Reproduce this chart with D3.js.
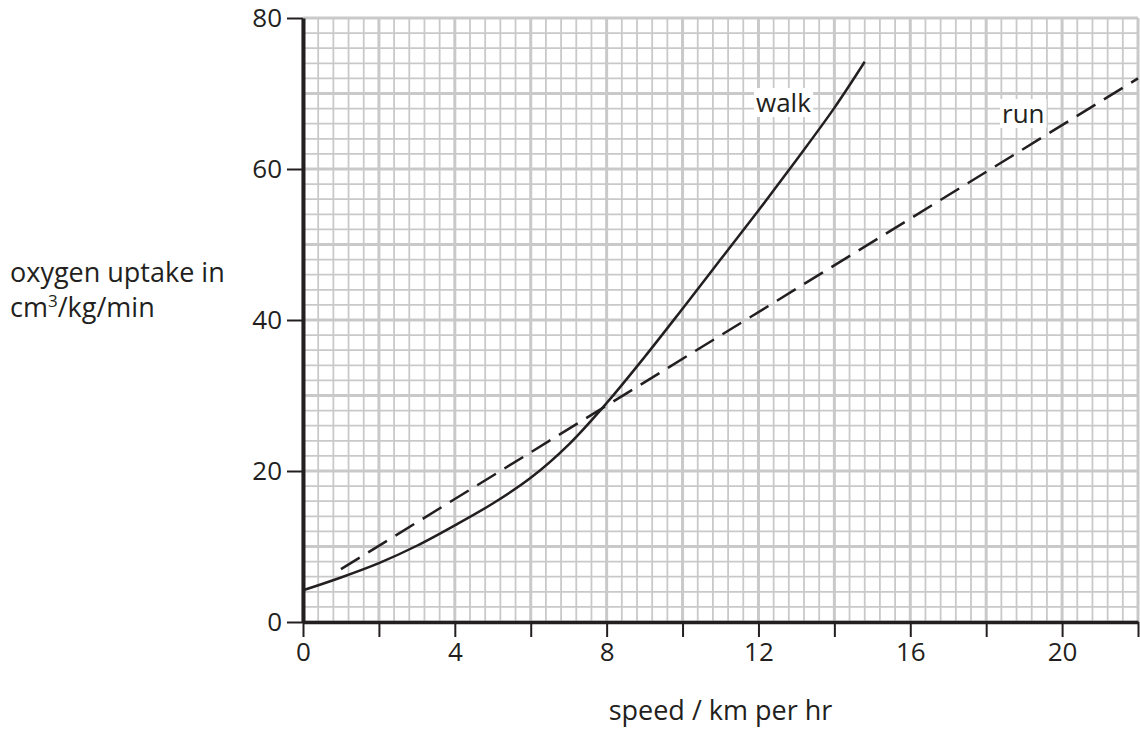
<!DOCTYPE html>
<meta charset="utf-8">
<style>
body { margin: 0; background: #fff; }
text { font-family: "Open Sans", "DejaVu Sans", sans-serif; fill: #231f20; }
</style>
<body>
<svg id="chart" width="1140" height="731"></svg>
<script src="https://d3js.org/d3.v7.min.js"></script>
<script>
// values
var walkSpeed  = [0, 1, 2, 3, 4, 5, 6, 7, 8, 9, 10, 11, 12, 13, 14, 14.8];
var walkOxygen = [4.2, 5.9, 7.8, 10.1, 12.8, 15.7, 19.1, 23.5, 29, 35.1, 41.5, 48, 54.5, 61.2, 68.1, 74.2];
var runSpeed   = [1, 22];
var runOxygen  = [7, 72];
var xTicks = [0, 2, 4, 6, 8, 10, 12, 14, 16, 18, 20, 22];
var xTickLabels = ["0", "", "4", "", "8", "", "12", "", "16", "", "20", ""];
var yTicks = [0, 20, 40, 60, 80];

var svg = d3.select("#chart");

var x = d3.scaleLinear().domain([0, 22]).range([303, 1138]);
var y = d3.scaleLinear().domain([0, 80]).range([622, 18]);

// graph paper
var grid = svg.append("g");
d3.range(0, 22.001, 0.4).forEach(function(v) {
  var major = Math.abs(v / 2 - Math.round(v / 2)) < 1e-6;
  grid.append("line")
    .attr("x1", x(v)).attr("x2", x(v))
    .attr("y1", y(0)).attr("y2", y(80))
    .attr("stroke", "#c9c9c9")
    .attr("stroke-width", major ? 3 : 1.8);
});
d3.range(0, 80.001, 2).forEach(function(v) {
  var major = v % 10 === 0;
  grid.append("line")
    .attr("x1", x(0)).attr("x2", x(22))
    .attr("y1", y(v)).attr("y2", y(v))
    .attr("stroke", "#c9c9c9")
    .attr("stroke-width", major ? 3 : 1.8);
});

// axes
var xAxis = d3.axisBottom(x)
  .tickValues(xTicks)
  .tickFormat(function(d, i) { return xTickLabels[i]; })
  .tickSize(15)
  .tickSizeOuter(0)
  .tickPadding(6);
var gx = svg.append("g").attr("transform", "translate(0," + y(0) + ")").call(xAxis);
gx.select(".domain").attr("stroke", "#231f20").attr("stroke-width", 3.5);
gx.selectAll(".tick line").attr("stroke", "#231f20").attr("stroke-width", 2);
gx.selectAll(".tick text").style("font-size", "26px").attr("fill", "#231f20");

var yAxis = d3.axisLeft(y)
  .tickValues(yTicks)
  .tickSize(16)
  .tickSizeOuter(0)
  .tickPadding(5);
var gy = svg.append("g").attr("transform", "translate(" + x(0) + ",0)").call(yAxis);
gy.select(".domain").attr("stroke", "#231f20").attr("stroke-width", 4);
gy.selectAll(".tick line").attr("stroke", "#231f20").attr("stroke-width", 2);
gy.selectAll(".tick text").style("font-size", "26px").attr("fill", "#231f20");
svg.selectAll(".tick text").style("font-family", "'Open Sans', 'DejaVu Sans', sans-serif");

// curves
var walk = walkSpeed.map(function(s, i) { return [s, walkOxygen[i]]; });
var run = runSpeed.map(function(s, i) { return [s, runOxygen[i]]; });
var line = d3.line()
  .x(function(d) { return x(d[0]); })
  .y(function(d) { return y(d[1]); })
  .curve(d3.curveCatmullRom.alpha(0.5));

svg.append("path").attr("d", line(run))
  .attr("fill", "none").attr("stroke", "#231f20")
  .attr("stroke-width", 2.5).attr("stroke-dasharray", "22,10");
svg.append("path").attr("d", line(walk))
  .attr("fill", "none").attr("stroke", "#231f20")
  .attr("stroke-width", 2.5);

// curve labels
function label(txt, px, py) {
  var t = svg.append("text").attr("x", px).attr("y", py)
    .style("font-size", "26px").text(txt);
  var b = t.node().getBBox();
  svg.insert("rect", function() { return t.node(); })
    .attr("x", b.x - 2).attr("y", b.y + 4)
    .attr("width", b.width + 4).attr("height", b.height - 7)
    .attr("fill", "#fff");
}
label("walk", 756, 112);
label("run", 1002, 123);

// axis titles
var yt = svg.append("text").attr("x", 10).style("font-size", "27px");
yt.append("tspan").attr("x", 10).attr("y", 282).text("oxygen uptake in");
yt.append("tspan").attr("x", 10).attr("y", 317).text("cm");
yt.append("tspan").attr("dy", -10).style("font-size", "17px").text("3");
yt.append("tspan").attr("dy", 10).text("/kg/min");

svg.append("text")
  .attr("x", x(11)).attr("y", 720)
  .attr("text-anchor", "middle")
  .style("font-size", "27px")
  .text("speed / km per hr");
</script>
</body>
